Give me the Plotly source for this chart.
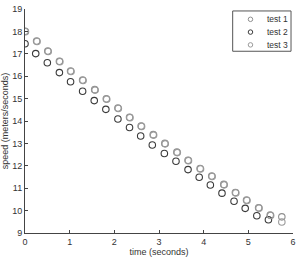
import plotly.graph_objects as go

# test 1 (upper row)
t1 = [0, 0.26, 0.51, 0.77, 1.02, 1.29, 1.56, 1.82, 2.08, 2.34, 2.60, 2.87, 3.13,
      3.40, 3.65, 3.92, 4.18, 4.45, 4.71, 4.96, 5.23, 5.49, 5.75]
v1 = [18.01, 17.57, 17.12, 16.67, 16.23, 15.83, 15.40, 14.99, 14.58, 14.17, 13.78,
      13.39, 13.00, 12.61, 12.25, 11.88, 11.54, 11.17, 10.81, 10.47, 10.13, 9.80, 9.72]
# test 2 (lower row)
t2 = [0, 0.24, 0.50, 0.77, 1.02, 1.29, 1.55, 1.81, 2.08, 2.34, 2.59, 2.85, 3.12,
      3.38, 3.65, 3.90, 4.15, 4.41, 4.68, 4.93, 5.19, 5.45]
v2 = [17.45, 17.01, 16.60, 16.16, 15.75, 15.33, 14.91, 14.52, 14.09, 13.71, 13.33,
      12.93, 12.55, 12.20, 11.83, 11.49, 11.14, 10.78, 10.42, 10.10, 9.77, 9.59]
# test 3 (overlapping upper row)
t3 = [0.01, 0.27, 0.52, 0.78, 1.03, 1.30, 1.57, 1.83, 2.09, 2.35, 2.61, 2.88, 3.14,
      3.41, 3.66, 3.93, 4.19, 4.46, 4.72, 4.97, 5.24, 5.50, 5.75]
v3 = [17.99, 17.55, 17.10, 16.65, 16.21, 15.81, 15.38, 14.97, 14.56, 14.15, 13.76,
      13.37, 12.98, 12.59, 12.23, 11.86, 11.52, 11.15, 10.79, 10.45, 10.11, 9.78, 9.49]

series_names = ["test 1", "test 2", "test 3"]
series_colors = ["#8f8f8f", "#3a3a3a", "#9a9a9a"]

xticks = [0, 1, 2, 3, 4, 5, 6]
yticks = [9, 10, 11, 12, 13, 14, 15, 16, 17, 18, 19]

FONT = "Liberation Sans, Arial"
W, H = 300, 259
ML, MR, MT, MB = 25, 4, 5, 26
PW, PH = W - ML - MR, H - MT - MB

fig = go.Figure()
for name, t, v, col in zip(series_names, [t1, t2, t3], [v1, v2, v3], series_colors):
    fig.add_trace(go.Scatter(
        x=t, y=v, mode="markers", name=name, showlegend=False,
        marker=dict(symbol="circle-open", size=6.5, color=col, line=dict(width=1.1, color=col)),
    ))

# legend drawn in an overlay pixel-coordinate axis (x2/y2)
leg_x0, leg_x1, leg_y0, leg_y1 = 235 - ML, 294 - ML, 7 - MT, 48 - MT
row_y = [15.5 - MT, 28.5 - MT, 41.5 - MT]
fig.add_trace(go.Scatter(
    x=[253 - ML] * 3, y=row_y, mode="markers", xaxis="x2", yaxis="y2", showlegend=False,
    hoverinfo="skip",
    marker=dict(symbol="circle-open", size=4.5, color=series_colors,
                line=dict(width=1, color=series_colors)),
))
fig.add_shape(type="rect", xref="x2", yref="y2", x0=leg_x0, x1=leg_x1, y0=leg_y0, y1=leg_y1,
              line=dict(color="#555", width=1), fillcolor="white", layer="below")
for name, yy in zip(series_names, row_y):
    fig.add_annotation(xref="x2", yref="y2", x=268 - ML, y=yy, text=name, showarrow=False,
                       xanchor="left", yanchor="middle",
                       font=dict(family=FONT, size=8.5, color="#333"))

axis_common = dict(
    showgrid=False, zeroline=False, showline=True, linecolor="#444", linewidth=1,
    ticks="inside", ticklen=3, tickcolor="#444", mirror=False, ticklabeloverflow="allow",
    tickfont=dict(family=FONT, size=9, color="#333"),
)
fig.update_layout(
    xaxis=dict(range=[0, 6.0001], tickvals=xticks, **axis_common,
               title=dict(text="time (seconds)", standoff=2, font=dict(family=FONT, size=9, color="#333"))),
    yaxis=dict(range=[9, 19.0001], tickvals=yticks, **axis_common,
               title=dict(text="speed (meters/seconds)", standoff=2, font=dict(family=FONT, size=9, color="#333"))),
    xaxis2=dict(range=[0, PW], overlaying="x", visible=False, fixedrange=True),
    yaxis2=dict(range=[PH, 0], overlaying="y", visible=False, fixedrange=True),
    width=W, height=H,
    margin=dict(l=ML, r=MR, t=MT, b=MB),
    paper_bgcolor="white", plot_bgcolor="white",
    showlegend=False,
)

fig.write_html("out.html")
